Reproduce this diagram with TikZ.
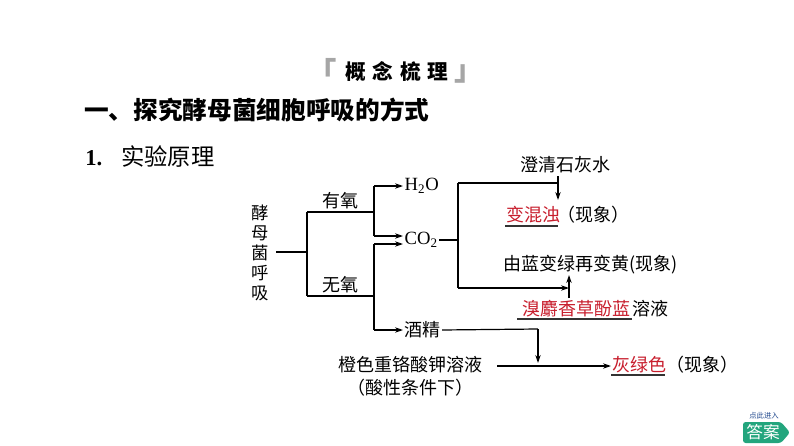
\documentclass[tikz,border=0pt]{standalone}
\usepackage{fontspec}
\setmainfont{Liberation Serif}
\newfontfamily\cjk{Noto Sans CJK SC}
\usetikzlibrary{arrows.meta}
\definecolor{redtxt}{RGB}{200,30,45}
\definecolor{btngreen}{RGB}{35,165,125}
\definecolor{btnblue}{RGB}{30,70,140}
\tikzset{
  txt/.style={inner sep=1pt, font=\fontsize{13.5}{16}\selectfont\cjk},
  redt/.style={txt, text=redtxt},
  ln/.style={line width=0.9pt},
  arr/.style={line width=0.9pt, -{Stealth[length=6pt,width=4pt]}},
  uline/.style={line width=0.8pt, draw=black!80},
  brk/.style={inner sep=0pt, text=black!35, font=\fontsize{22}{22}\selectfont\cjk\bfseries}
}
\begin{document}
\begin{tikzpicture}[x=0.75pt,y=-0.75pt]
\useasboundingbox[fill=white] (0,0) rectangle (794,446);

% headings
\node[brk] (lb) at (322,71) {「};
\node[brk] (rb) at (469,74) {」};
\node[inner sep=0pt, font=\fontsize{15.5}{16}\selectfont\cjk\bfseries] (title) at (397,72) {概\hspace{5pt}念\hspace{5pt}梳\hspace{5pt}理};
\node[anchor=west, inner sep=0pt, font=\fontsize{18.5}{20}\selectfont\cjk\bfseries] (h1) at (84,110) {一、探究酵母菌细胞呼吸的方式};
\node[anchor=west, inner sep=0pt, font=\fontsize{17}{20}\selectfont\bfseries] (num) at (85,158) {1.};
\node[anchor=west, inner sep=0pt, font=\fontsize{17.5}{20}\selectfont\cjk] (h2) at (121,157) {实验原理};

% left part
\node[txt, align=center, font=\fontsize{13}{15}\selectfont\cjk] (yeast) at (260,253) {酵\\母\\菌\\呼\\吸};
\node[txt] (you) at (340,201) {有氧};
\node[txt] (wu) at (340,285) {无氧};
\node[inner sep=1pt, font=\fontsize{14}{16}\selectfont, anchor=west] (h2o) at (403,186) {H\textsubscript{2}O};
\node[inner sep=1pt, font=\fontsize{14}{16}\selectfont, anchor=west] (co2) at (403,240) {CO\textsubscript{2}};
\node[txt, anchor=west] (jiu) at (403,330) {酒精};

\coordinate (j1) at (307,252);
\coordinate (ja) at (307,212);
\coordinate (jb) at (307,296);
\coordinate (ka) at (374,212);
\coordinate (kb) at (374,296);
\coordinate (ua) at (374,186);
\coordinate (ub) at (374,236);
\coordinate (la) at (374,244);
\coordinate (lc) at (374,330);

\draw[ln] (276,252) -- (j1);
\draw[ln] (ja) -- (jb);
\draw[ln] (ja) -- (ka);
\draw[ln] (jb) -- (kb);
\draw[ln] (ua) -- (ub);
\draw[ln] (la) -- (lc);
\draw[arr] (ua) -- (h2o.west);
\draw[arr] (ub) -- (ub -| co2.west);
\draw[arr] (la) -- (la -| co2.west);
\draw[arr] (lc) -- (jiu.west);

% CO2 branch
\node[txt] (lime) at (565,165) {澄清石灰水};
\node[redt, anchor=west] (hun) at (505,215) {变混浊};
\node[txt, anchor=west, inner sep=0pt] (hunx) at (557,215) {（现象）};
\node[txt, anchor=west] (lan) at (502,265) {由蓝变绿再变黄(现象)};
\node[redt, anchor=west] (xiu) at (521,309) {溴麝香草酚蓝};
\node[txt, anchor=west] (rongye) at (631,309) {溶液};

\coordinate (c1) at (458,240);
\coordinate (ct) at (458,183);
\coordinate (cb) at (458,288);
\coordinate (tt) at (558,183);
\coordinate (ttop) at (558,176);
\coordinate (tb) at (558,200);
\coordinate (bt) at (569,275);
\coordinate (bb) at (569,298);
\coordinate (bh) at (569,288);

\draw[ln] (co2.east) -- (c1);
\draw[ln] (ct) -- (cb);
\draw[ln] (ct) -- (tt);
\draw[arr] (ttop) -- (tb);
\draw[arr] (cb) -- (bh);
\draw[arr] (bb) -- (bt);

\draw[uline] (505,226) -- (558,226);
\draw[uline] (517,319) -- (632,319);

% alcohol branch
\node[txt] (k2) at (410,365) {橙色重铬酸钾溶液};
\node[txt] (suan) at (410,388) {（酸性条件下）};
\node[redt, anchor=west] (hui) at (611,365) {灰绿色};
\node[txt, anchor=west, inner sep=0pt] (huix) at (666,365) {（现象）};

\coordinate (m1) at (538,329);
\coordinate (m2) at (538,363);
\coordinate (s1) at (497,366);
\draw[ln] (jiu.east) -- (m1);
\draw[arr] (m1) -- (m2);
\draw[arr] (s1) -- (hui.west |- s1);
\draw[uline] (611,375) -- (665,375);

% answer button
\node[inner sep=0pt, text=btnblue, font=\fontsize{5.5}{6}\selectfont\cjk] (tip) at (764,416) {点此进入};
\path[fill=btngreen, rounded corners=2pt] (743,422) -- (781,422) -- (790,432.5) -- (781,443) -- (743,443) -- cycle;
\node[inner sep=0pt, text=white, font=\fontsize{12.5}{14}\selectfont\cjk] (ans) at (763,432.5) {答案};
\end{tikzpicture}
\end{document}
